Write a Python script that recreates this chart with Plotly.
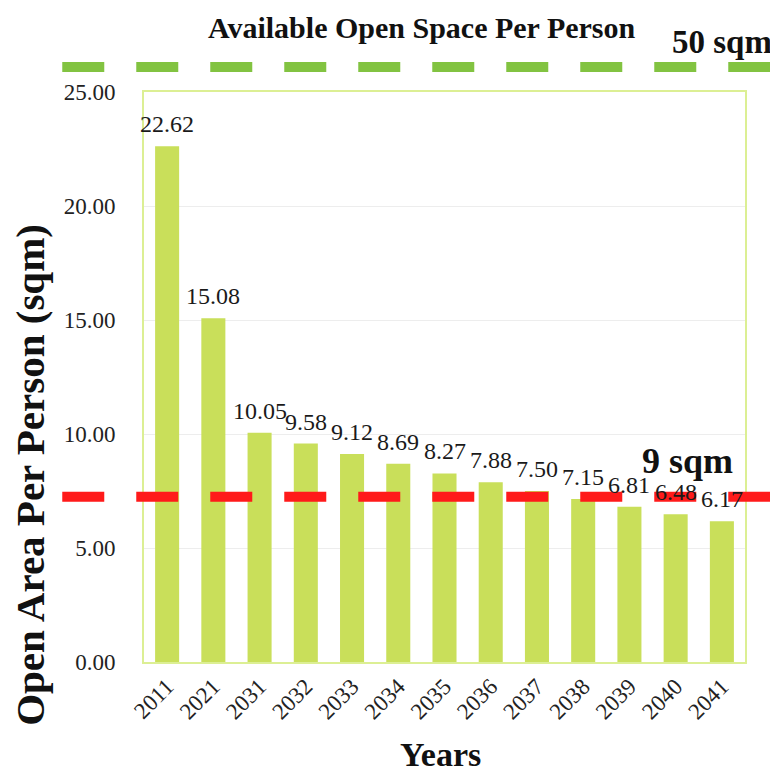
import plotly.graph_objects as go

years = ["2011", "2021", "2031", "2032", "2033", "2034", "2035", "2036", "2037", "2038", "2039", "2040", "2041"]
values = [22.62, 15.08, 10.05, 9.58, 9.12, 8.69, 8.27, 7.88, 7.50, 7.15, 6.81, 6.48, 6.17]
labels = [f"{v:.2f}" for v in values]
red_line_value = 7.25
y_ticks = [0, 5, 10, 15, 20, 25]
y_tick_text = [f"{t:.2f}" for t in y_ticks]

serif = "Liberation Serif, Times New Roman, serif"

fig = go.Figure()
fig.add_trace(go.Bar(
    x=years, y=values,
    marker=dict(color="#c9df5a", line=dict(width=0)),
    width=0.52,
))

# value labels, positioned by category index on the category axis
for i, (val, lab) in enumerate(zip(values, labels)):
    fig.add_annotation(x=i, y=val, text=lab, showarrow=False, xanchor="center",
                       yanchor="bottom", yshift=7,
                       font=dict(family=serif, size=24, color="#1a1a1a"))

fig.add_shape(type="line", xref="paper", yref="y", x0=-0.136, x1=1.07,
              y0=red_line_value, y1=red_line_value,
              line=dict(color="#ff1a1a", width=10, dash="42px,32px"))
fig.add_shape(type="line", xref="paper", yref="paper", x0=-0.136, x1=1.07,
              y0=1.044, y1=1.044,
              line=dict(color="#82c341", width=10, dash="42px,32px"))

fig.add_annotation(text="<b>Available Open Space Per Person</b>", xref="paper", yref="paper",
                   x=0.463, y=1.114, xanchor="center", yanchor="middle", showarrow=False,
                   font=dict(family=serif, size=30, color="#111"))
fig.add_annotation(text="<b>50 sqm</b>", xref="paper", yref="paper",
                   x=1.048, y=1.088, xanchor="right", yanchor="middle", showarrow=False,
                   font=dict(family=serif, size=33, color="#111"))
fig.add_annotation(text="<b>9 sqm</b>", xref="paper", yref="y",
                   x=0.983, y=8.8, xanchor="right", yanchor="middle", showarrow=False,
                   font=dict(family=serif, size=36, color="#111"))
fig.add_annotation(text="<b>Open Area Per Person (sqm)</b>", xref="paper", yref="paper",
                   x=-0.19, y=0.328, xanchor="center", yanchor="middle", showarrow=False,
                   textangle=-90, font=dict(family=serif, size=41, color="#111"))
fig.add_annotation(text="<b>Years</b>", xref="paper", yref="paper",
                   x=0.494, y=-0.162, xanchor="center", yanchor="middle", showarrow=False,
                   font=dict(family=serif, size=34, color="#111"))

fig.update_layout(
    width=770, height=768,
    margin=dict(l=136, r=33, t=84, b=114),
    plot_bgcolor="white", paper_bgcolor="white",
    showlegend=False,
    xaxis=dict(type="category", range=[-0.5, len(years) - 0.5],
               tickangle=-45, tickfont=dict(family=serif, size=23, color="#222"),
               showline=True, linecolor="#dcef94", linewidth=2, mirror=True,
               automargin=False),
    yaxis=dict(range=[0, 25], tickvals=y_ticks, ticktext=y_tick_text,
               tickfont=dict(family=serif, size=23, color="#222"),
               showgrid=True, gridcolor="#ededed", zeroline=False,
               showline=True, linecolor="#dcef94", linewidth=2, mirror=True,
               ticks="", ticklabelstandoff=22, automargin=False),
)

fig.write_html("out.html")
